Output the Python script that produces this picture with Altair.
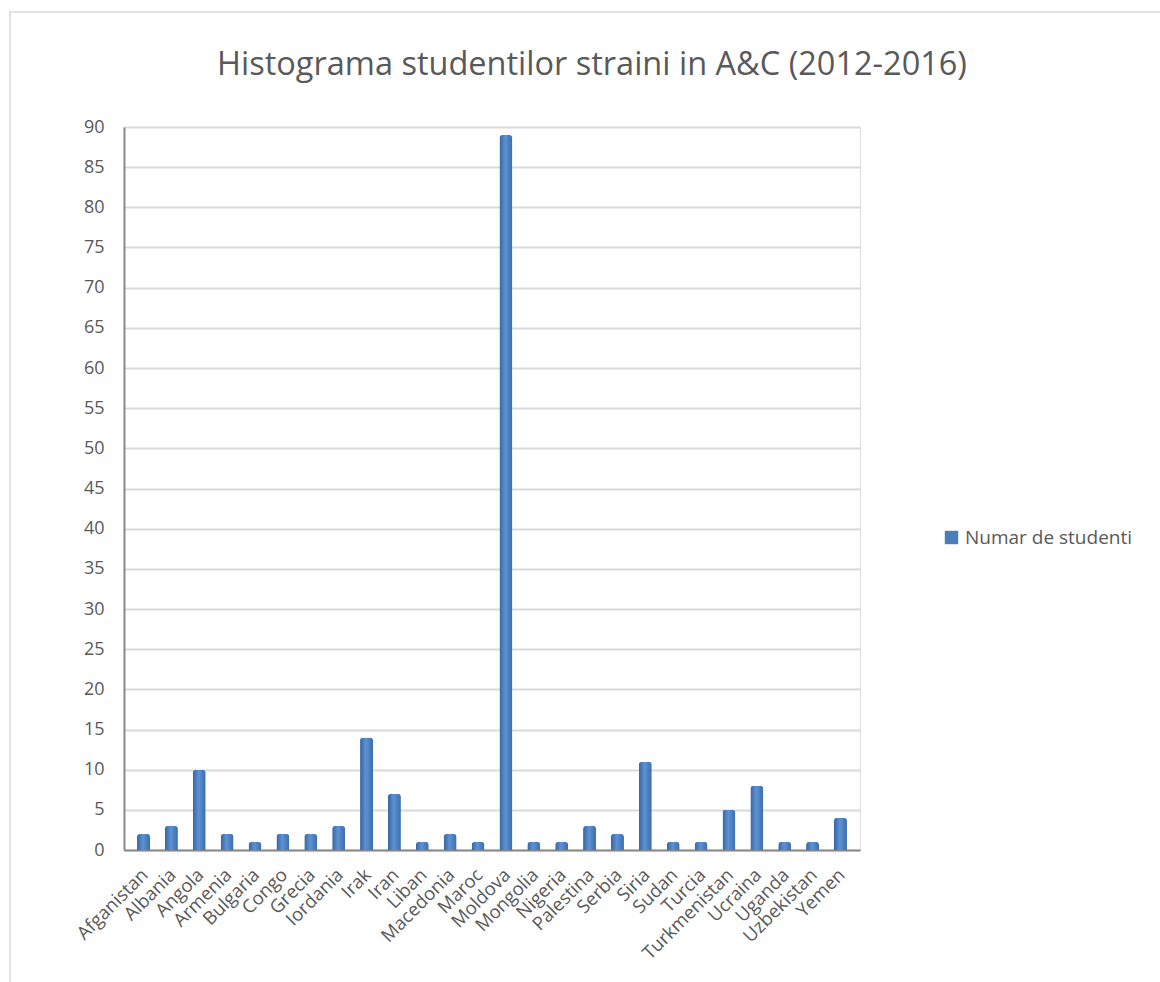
import altair as alt
import pandas as pd

countries = ["Afganistan", "Albania", "Angola", "Armenia", "Bulgaria", "Congo", "Grecia",
             "Iordania", "Irak", "Iran", "Liban", "Macedonia", "Maroc", "Moldova", "Mongolia",
             "Nigeria", "Palestina", "Serbia", "Siria", "Sudan", "Turcia", "Turkmenistan",
             "Ucraina", "Uganda", "Uzbekistan", "Yemen"]
students = [2, 3, 10, 2, 1, 2, 2, 3, 14, 7, 1, 2, 1, 89, 1, 1, 3, 2, 11, 1, 1, 5, 8, 1, 1, 4]
series_name = "Numar de studenti"
y_ticks = list(range(0, 91, 5))

df = pd.DataFrame({"Tara": countries, "Studenti": students, "Serie": series_name})

TEXT = "#595959"
FONT = "Open Sans"

grad = alt.Gradient(
    gradient="linear", x1=0, x2=1, y1=0, y2=0,
    stops=[alt.GradientStop(color="#3565a3", offset=0),
           alt.GradientStop(color="#5d92d3", offset=0.45),
           alt.GradientStop(color="#3c6cab", offset=1)],
)

frame = alt.Chart(pd.DataFrame({"a": [0]})).mark_rect(
    fill=None, stroke="#d9d9d9", strokeWidth=1.5
).encode(x=alt.value(-114), x2=alt.value(1060), y=alt.value(-115), y2=alt.value(1000))

bars = alt.Chart(df).mark_bar(
    size=13, cornerRadiusTopLeft=3, cornerRadiusTopRight=3, fill=grad
).encode(
    x=alt.X("Tara:N", sort=countries, title=None,
            scale=alt.Scale(paddingInner=0, paddingOuter=0.2),
            axis=alt.Axis(labelAngle=-45, labelFontSize=18.5, labelColor=TEXT, labelFont=FONT,
                          ticks=False, domainColor="#898989", domainWidth=2, labelPadding=15,
                          labelOffset=-5, grid=False)),
    y=alt.Y("Studenti:Q", title=None, scale=alt.Scale(domain=[0, 90], nice=False),
            axis=alt.Axis(values=y_ticks, labelFontSize=18, labelColor=TEXT, labelFont=FONT,
                          ticks=False, domainColor="#898989", domainWidth=2, labelPadding=20,
                          gridColor="#d9d9d9", gridWidth=2)),
    color=alt.Color("Serie:N", scale=alt.Scale(range=["#4a7ebb"]),
                    legend=alt.Legend(title=None, orient="none", legendX=818, legendY=401,
                                      symbolType="square", symbolSize=180, labelLimit=400,
                                      labelFontSize=19, labelColor=TEXT, labelFont=FONT,
                                      symbolStrokeWidth=0)),
)

chart = alt.layer(frame, bars).properties(
    width=736, height=723,
    title=alt.TitleParams("Histograma studentilor straini in A&C (2012-2016)",
                          fontSize=32.5, font=FONT, color=TEXT, fontWeight="normal",
                          anchor="middle", dx=100, offset=-70),
    autosize=alt.AutoSizeParams(type="none"),
    padding={"left": 124, "top": 127, "right": 300, "bottom": 132},
).configure_view(stroke=None).configure(background="white")

chart.save("out.html", embed_options={"renderer": "svg", "actions": False})
